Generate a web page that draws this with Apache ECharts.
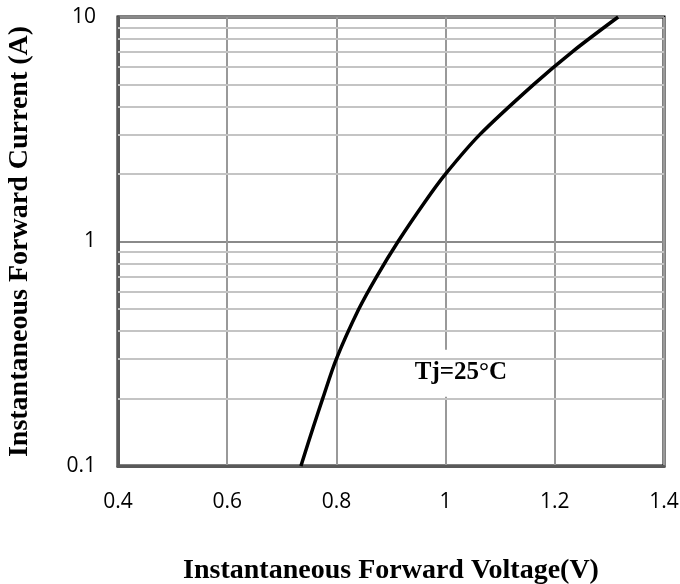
<!DOCTYPE html>
<html>
<head>
<meta charset="utf-8">
<script src="https://cdn.jsdelivr.net/npm/echarts@6/dist/echarts.min.js"></script>
<style>
html,body{margin:0;padding:0;background:#fff;}
#chart{width:680px;height:584px;}
</style>
</head>
<body>
<div id="chart"></div>
<script>
// Forward voltage (V) and current (A)
const voltage = [0.735, 0.758, 0.775, 0.800, 0.841, 0.874, 0.913, 0.962, 1.000, 1.063, 1.161, 1.232, 1.316];
const current = [0.1, 0.15, 0.2, 0.3, 0.5, 0.7, 1, 1.5, 2, 3, 5, 7, 10];
const minorCurrentGrid = [0.2, 0.3, 0.4, 0.5, 0.6, 0.7, 0.8, 0.9, 2, 3, 4, 5, 6, 7, 8, 9];
const xTicks = [0.4, 0.6, 0.8, 1, 1.2, 1.4];
const yTicks = [0.1, 1, 10];
const xTitle = 'Instantaneous Forward Voltage(V)';
const yTitle = 'Instantaneous Forward Current (A)';
const annotation = 'Tj=25\u00B0C';
const annotationAt = [1.028, 0.26];

const chart = echarts.init(document.getElementById('chart'), null, {renderer: 'canvas'});
const serif = '"Liberation Serif", "Times New Roman", serif';
const sans = '"Open Sans", "Noto Sans", sans-serif';

chart.setOption({
  animation: false,
  backgroundColor: '#fff',
  grid: {left: 118, right: 16, top: 17, bottom: 118, containLabel: false, outerBoundsMode: 'none',
    show: true, borderColor: '#000', borderWidth: 3, backgroundColor: 'transparent'},
  xAxis: {
    type: 'value', min: xTicks[0], max: xTicks[xTicks.length - 1], interval: 0.2,
    name: xTitle, nameLocation: 'middle', nameGap: 91,
    nameTextStyle: {fontFamily: serif, fontWeight: 'bold', fontSize: 28, color: '#000'},
    axisLine: {show: true, lineStyle: {color: '#595959', width: 3}},
    axisTick: {show: false},
    axisLabel: {margin: 26, fontFamily: sans, fontSize: 21, color: '#000',
      formatter: v => String(Math.round(v * 10) / 10)},
    splitLine: {show: true, lineStyle: {color: '#999', width: 2}}
  },
  yAxis: {
    type: 'log', logBase: 10, min: yTicks[0], max: yTicks[yTicks.length - 1],
    name: yTitle, nameLocation: 'middle', nameGap: 84,
    nameTextStyle: {fontFamily: serif, fontWeight: 'bold', fontSize: 28, color: '#000'},
    axisLine: {show: true, lineStyle: {color: '#595959', width: 3}},
    axisTick: {show: false},
    axisLabel: {margin: 22, fontFamily: sans, fontSize: 21, color: '#000',
      formatter: v => String(v)},
    splitLine: {show: true, lineStyle: {color: '#8a8a8a', width: 2}}
  },
  series: [{
    type: 'line',
    data: voltage.map((v, i) => [v, current[i]]),
    smooth: 0.3,
    showSymbol: false,
    lineStyle: {color: '#000', width: 3.5},
    z: 5,
    markLine: {
      silent: true, symbol: 'none', label: {show: false},
      lineStyle: {color: '#c4c4c4', width: 2, type: 'solid'},
      z: 1,
      data: minorCurrentGrid.map(v => ({yAxis: v}))
    }
  }]
});

const p = chart.convertToPixel({gridIndex: 0}, annotationAt);
chart.setOption({
  graphic: [{
    type: 'group', x: p[0], y: p[1], z: 10,
    children: [
      {type: 'rect', shape: {x: -68, y: -23, width: 136, height: 47}, style: {fill: '#fff'}},
      {type: 'text', style: {text: annotation, x: 0, y: 0, align: 'center', verticalAlign: 'middle',
        font: 'bold 25px ' + serif, fill: '#000'}}
    ]
  }]
});
</script>
</body>
</html>
